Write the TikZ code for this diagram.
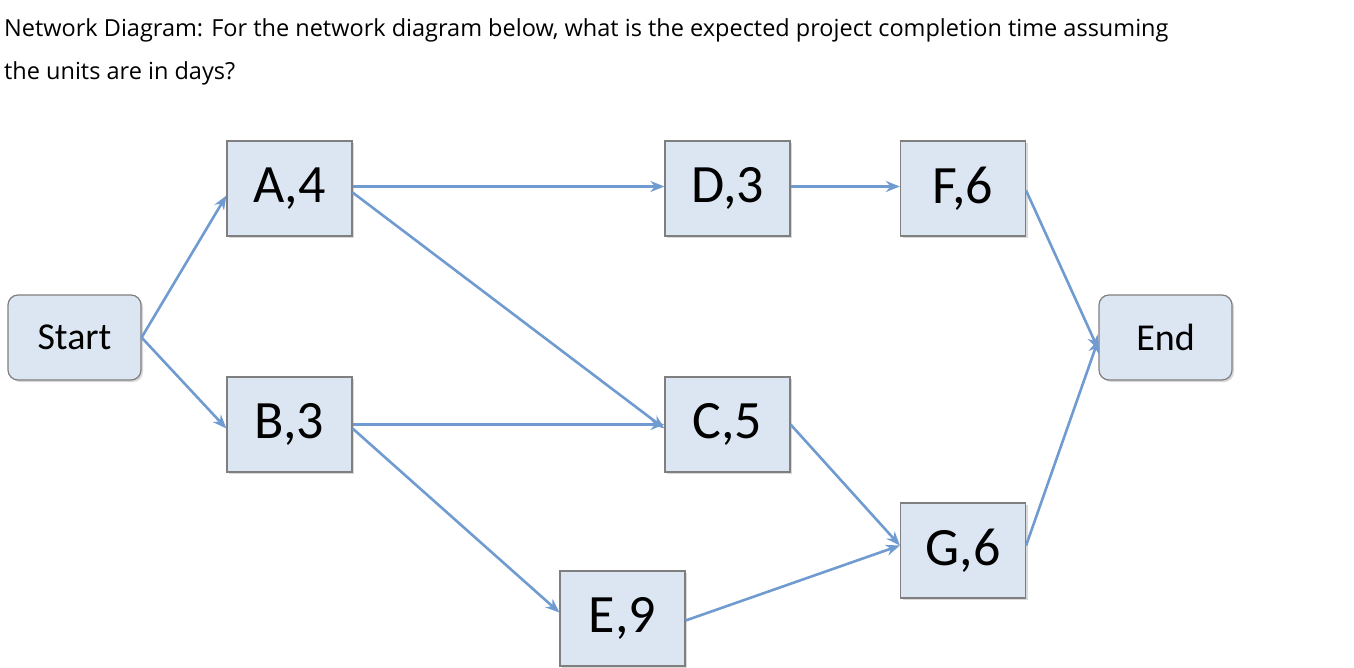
\documentclass[tikz,border=0pt]{standalone}
\usepackage{fontspec}
\setmainfont{Open Sans}
\newfontfamily\boxfont{Carlito}
\usetikzlibrary{arrows.meta,shadows}
\definecolor{boxfill}{HTML}{DCE6F2}
\definecolor{boxline}{HTML}{7F7F7F}
\definecolor{arr}{HTML}{6F9BD1}
\tikzset{
 task/.style={draw=boxline,line width=1.2pt,fill=boxfill,minimum width=125pt,minimum height=95pt,inner sep=0pt,font=\boxfont\fontsize{54}{54}\selectfont,drop shadow={shadow xshift=2pt,shadow yshift=-2pt,opacity=0.3}},
 term/.style={task,rounded corners=10pt,minimum width=133pt,minimum height=85pt,font=\boxfont\fontsize{38}{38}\selectfont},
 link/.style={draw=arr,line width=2.6pt,-{Stealth[length=14pt,width=11pt]}}
}
\begin{document}
\begin{tikzpicture}[x=1pt,y=-1pt]
\useasboundingbox (0,0) rectangle (1354,668);
\node[anchor=north west,align=left,font=\fontsize{23.5}{43}\selectfont,inner sep=0pt] (q) at (4,18) {Network Diagram: For the network diagram below, what is the expected project completion time assuming\\the units are in days?};
\node[term] (start) at (74.5,337.5) {Start};
\node[term] (end) at (1165.5,337.5) {End};
\node[task] (A) at (289.5,188.5) {A,4};
\node[task] (D) at (727.5,188.5) {D,3};
\node[task] (F) at (963,188.5) {F,6};
\node[task] (B) at (289.5,424.5) {B,3};
\node[task] (C) at (727.5,424.5) {C,5};
\node[task] (G) at (963,550.5) {G,6};
\node[task] (E) at (622.5,618.5) {E,9};
\draw[link] (start.east) -- ([yshift=-7pt]A.west);
\draw[link] (start.east) -- ([yshift=-4pt]B.west);
\draw[link] ([yshift=2pt]A.east) -- ([yshift=2pt]D.west);
\draw[link] ([yshift=-4pt]A.east) -- ([yshift=-4pt]C.west);
\draw[link] ([yshift=2pt]D.east) -- ([yshift=2pt]F.west);
\draw[link] (B.east) -- (C.west);
\draw[link] ([yshift=-4pt]B.east) -- ([yshift=6pt]E.west);
\draw[link] (C.east) -- ([yshift=5pt]G.west);
\draw[link] ([yshift=-2pt]E.east) -- ([yshift=5pt]G.west);
\draw[link] ([yshift=-2pt]F.east) -- ([yshift=-12pt]end.west);
\draw[link] ([yshift=5pt]G.east) -- ([yshift=-2pt]end.west);
\end{tikzpicture}
\end{document}
